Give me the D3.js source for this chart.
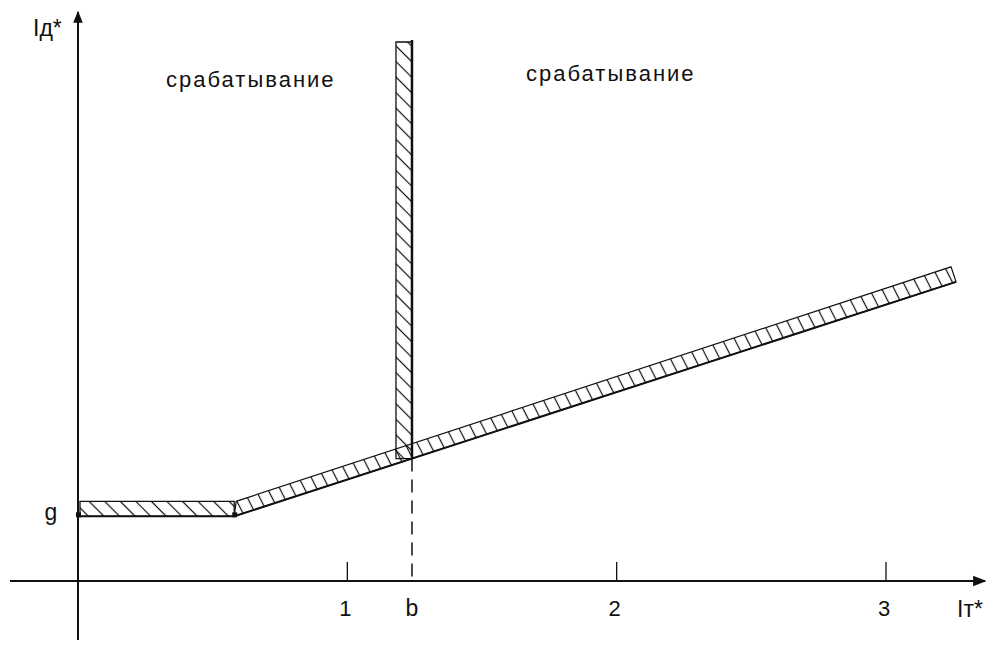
<!DOCTYPE html>
<html>
<head>
<meta charset="utf-8">
<script src="https://cdn.jsdelivr.net/npm/d3@7"></script>
<style>
  body { margin: 0; background: #fff; }
  text { font-family: "Liberation Sans", Arial, sans-serif; fill: #111; }
</style>
</head>
<body>
<script>
// chart values (per-unit currents)
var xTicks = [1, 2, 3];
var gValue = 0.24;          // pickup at zero restraint
var bValue = 1.24;          // cut-off restraint current
var charX = [0, 0.58, 3.26]; // characteristic break points, Iт*
var charY = [0.24, 0.24, 1.11]; // characteristic values, Iд*
var barTop = 2.0;
var regionLabels = ['срабатывание', 'срабатывание'];
var axisLabels = ['Iд*', 'Iт*'];

var opts = {
  width: 992,
  height: 645,
  band: 15
};

var svg = d3.select('body').append('svg')
  .attr('width', opts.width)
  .attr('height', opts.height);

var x = d3.scaleLinear().domain([0, 3]).range([78, 886]);
var y = d3.scaleLinear().domain([0, 2]).range([581, 42]);

// value of the sloped part at a given Iт*
var slopeAt = function(v) {
  return charY[1] + (v - charX[1]) * (charY[2] - charY[1]) / (charX[2] - charX[1]);
};

// hatch patterns
var defs = svg.append('defs');
var makeHatch = function(id, angle) {
  var p = defs.append('pattern')
    .attr('id', id)
    .attr('patternUnits', 'userSpaceOnUse')
    .attr('width', 11)
    .attr('height', 11)
    .attr('patternTransform', 'rotate(' + angle + ')');
  p.append('line')
    .attr('x1', 5.5).attr('y1', 0)
    .attr('x2', 5.5).attr('y2', 11)
    .attr('stroke', '#111')
    .attr('stroke-width', 1.2);
};
makeHatch('hatch45', -45);
makeHatch('hatchSteep', -27);

defs.append('marker')
  .attr('id', 'arrow')
  .attr('viewBox', '0 0 10 10')
  .attr('refX', 9).attr('refY', 5)
  .attr('markerWidth', 6).attr('markerHeight', 6)
  .attr('markerUnits', 'strokeWidth')
  .attr('orient', 'auto')
  .append('path')
  .attr('d', 'M0,1 L10,5 L0,9 Z')
  .attr('fill', '#111');

// axes
svg.append('line')
  .attr('x1', 10).attr('y1', y(0))
  .attr('x2', 985).attr('y2', y(0))
  .attr('stroke', '#111').attr('stroke-width', 2.2)
  .attr('marker-end', 'url(#arrow)');
svg.append('line')
  .attr('x1', x(0)).attr('y1', 640)
  .attr('x2', x(0)).attr('y2', 12)
  .attr('stroke', '#111').attr('stroke-width', 2)
  .attr('marker-end', 'url(#arrow)');

// ticks + labels
svg.selectAll('.tick')
  .data(xTicks)
  .enter()
  .append('line')
  .attr('x1', function(d) { return x(d); })
  .attr('x2', function(d) { return x(d); })
  .attr('y1', y(0) - 19)
  .attr('y2', y(0))
  .attr('stroke', '#111')
  .attr('stroke-width', 1.3);

svg.selectAll('.tickLabel')
  .data(xTicks)
  .enter()
  .append('text')
  .attr('x', function(d) { return x(d) - 2; })
  .attr('y', 616)
  .attr('text-anchor', 'middle')
  .style('font-size', '22px')
  .text(function(d) { return d; });

svg.append('text')
  .attr('x', x(bValue))
  .attr('y', 616)
  .attr('text-anchor', 'middle')
  .style('font-size', '23px')
  .text('b');

svg.append('text')
  .attr('x', 51)
  .attr('y', y(gValue) + 4)
  .attr('text-anchor', 'middle')
  .style('font-size', '23px')
  .text('g');

svg.append('text')
  .attr('x', 33).attr('y', 36)
  .style('font-size', '23px')
  .text(axisLabels[0]);
svg.append('text')
  .attr('x', 957).attr('y', 617)
  .style('font-size', '23px')
  .text(axisLabels[1]);

svg.append('text')
  .attr('x', 166).attr('y', 87)
  .style('font-size', '22px')
  .style('letter-spacing', '2px')
  .text(regionLabels[0]);
svg.append('text')
  .attr('x', 526).attr('y', 81)
  .style('font-size', '22px')
  .style('letter-spacing', '2px')
  .text(regionLabels[1]);

// dashed line down from b
svg.append('line')
  .attr('x1', x(bValue)).attr('y1', y(slopeAt(bValue)))
  .attr('x2', x(bValue)).attr('y2', y(0))
  .attr('stroke', '#111')
  .attr('stroke-width', 1.5)
  .attr('stroke-dasharray', '13,8');

// horizontal band
var hb = [
  [x(charX[0]) + 2, y(charY[0])],
  [x(charX[1]), y(charY[1])],
  [x(charX[1]), y(charY[1]) - opts.band],
  [x(charX[0]) + 2, y(charY[0]) - opts.band]
];
svg.append('path')
  .attr('d', d3.line()(hb) + 'Z')
  .attr('fill', 'url(#hatch45)')
  .attr('stroke', '#111')
  .attr('stroke-width', 1.3);

// sloped band
var sb = [
  [x(charX[1]), y(charY[1])],
  [x(charX[2]), y(charY[2])],
  [x(charX[2]) - 5, y(charY[2]) - opts.band],
  [x(charX[1]) + 2, y(charY[1]) - opts.band]
];
svg.append('path')
  .attr('d', d3.line()(sb) + 'Z')
  .attr('fill', 'url(#hatchSteep)')
  .attr('stroke', '#111')
  .attr('stroke-width', 1.2);

// vertical band at b
var vb = [
  [x(bValue), y(slopeAt(bValue))],
  [x(bValue), y(barTop)],
  [x(bValue) - 16, y(barTop)],
  [x(bValue) - 16, y(slopeAt(bValue))]
];
svg.append('path')
  .attr('d', d3.line()(vb) + 'Z')
  .attr('fill', 'url(#hatch45)')
  .attr('stroke', '#111')
  .attr('stroke-width', 1.3);

// characteristic boundary lines (thicker)
svg.append('path')
  .attr('d', d3.line()(charX.map(function(v, i) { return [x(v), y(charY[i])]; })))
  .attr('fill', 'none')
  .attr('stroke', '#111')
  .attr('stroke-width', 2);
svg.append('line')
  .attr('x1', x(bValue)).attr('y1', y(slopeAt(bValue)))
  .attr('x2', x(bValue)).attr('y2', y(barTop) - 2)
  .attr('stroke', '#111')
  .attr('stroke-width', 2.5);

// small marks at g and knee
svg.selectAll('.dot')
  .data([0, 1])
  .enter()
  .append('rect')
  .attr('x', function(i) { return x(charX[i]) - 2; })
  .attr('y', function(i) { return y(charY[i]) - 4; })
  .attr('width', 5)
  .attr('height', 5)
  .attr('fill', '#111');
</script>
</body>
</html>
